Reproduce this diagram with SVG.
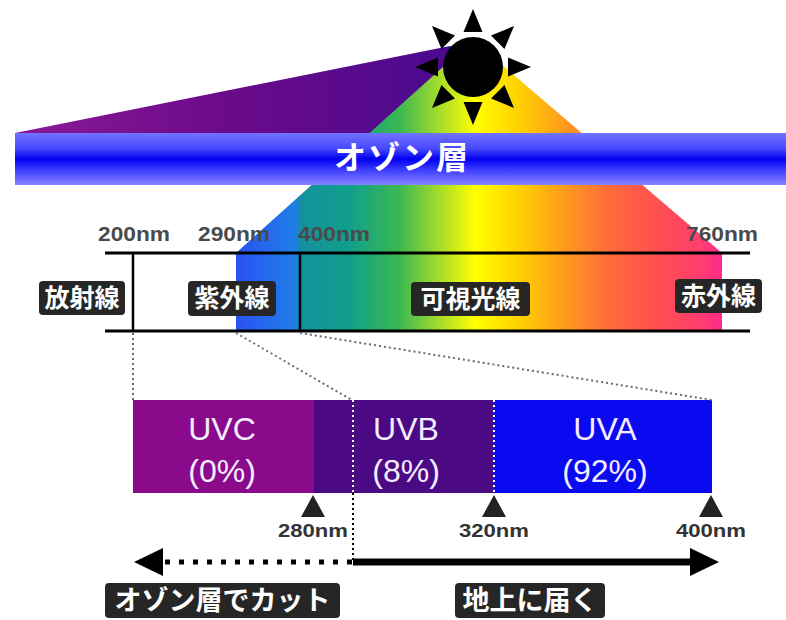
<svg xmlns="http://www.w3.org/2000/svg" width="786" height="620" viewBox="0 0 786 620">
  <defs>
    <linearGradient id="spectrum" gradientUnits="userSpaceOnUse" x1="236" y1="0" x2="722" y2="0">
      <stop offset="0" stop-color="#2a52f2"/>
      <stop offset="0.123" stop-color="#1f7fe6"/>
      <stop offset="0.134" stop-color="#14909e"/>
      <stop offset="0.235" stop-color="#10a08a"/>
      <stop offset="0.337" stop-color="#3cb850"/>
      <stop offset="0.42" stop-color="#a8dc2a"/>
      <stop offset="0.492" stop-color="#ffff00"/>
      <stop offset="0.584" stop-color="#ffd000"/>
      <stop offset="0.677" stop-color="#ff9a1e"/>
      <stop offset="0.77" stop-color="#ff6a3a"/>
      <stop offset="0.872" stop-color="#ff4e52"/>
      <stop offset="0.955" stop-color="#ff3e6e"/>
      <stop offset="1" stop-color="#ff2a8c"/>
    </linearGradient>
    <linearGradient id="uvWedge" gradientUnits="userSpaceOnUse" x1="15" y1="0" x2="450" y2="0">
      <stop offset="0" stop-color="#8a1a96"/>
      <stop offset="0.5" stop-color="#6a0a8a"/>
      <stop offset="1" stop-color="#4a0a8e"/>
    </linearGradient>
    <linearGradient id="ozone" x1="0" y1="0" x2="0" y2="1">
      <stop offset="0" stop-color="#7272ff"/>
      <stop offset="0.3" stop-color="#4848ff"/>
      <stop offset="0.5" stop-color="#0000f0"/>
      <stop offset="0.7" stop-color="#3a3aff"/>
      <stop offset="1" stop-color="#8686ff"/>
    </linearGradient>
    <polygon id="ray" points="0,-58 -9.5,-35 9.5,-35"/>
  </defs>
  <style>
    .nm { font-family: "Liberation Sans", Arial, sans-serif; font-weight: bold; font-size: 20px; fill: #4a4a4a; }
    .tick { font-family: "Liberation Sans", Arial, sans-serif; font-weight: bold; font-size: 19px; fill: #333; }
    .tag { fill: #262626; }
    .tagText { font-family: "Noto Sans CJK JP", sans-serif; font-weight: bold; fill: #fff; text-anchor: middle; }
    .band { font-family: "Liberation Sans", Arial, sans-serif; font-size: 32px; fill: #f4ecff; text-anchor: middle; }
    .rule { stroke: #000; stroke-width: 3; }
    .guide { stroke: #6a6a6a; stroke-width: 2; stroke-dasharray: 2 3; fill: none; }
  </style>

  <!-- light from the sun -->
  <g id="uv-wedge">
    <polygon points="15,133 450,46 473,55 372,133" fill="url(#uvWedge)"/>
  </g>
  <g id="spectrum-fan">
    <polygon points="473,40 722,253 722,331 236,331 236,253" fill="url(#spectrum)"/>
  </g>

  <!-- sun -->
  <g id="sun" fill="#000">
    <circle cx="473" cy="67" r="30"/>
    <g transform="translate(473,67)">
      <use href="#ray"/>
      <use href="#ray" transform="rotate(45)"/>
      <use href="#ray" transform="rotate(90)"/>
      <use href="#ray" transform="rotate(135)"/>
      <use href="#ray" transform="rotate(180)"/>
      <use href="#ray" transform="rotate(225)"/>
      <use href="#ray" transform="rotate(270)"/>
      <use href="#ray" transform="rotate(315)"/>
    </g>
  </g>

  <!-- ozone layer -->
  <g id="ozone-layer">
    <rect x="15" y="133" width="771" height="52" fill="url(#ozone)"/>
    <text x="402" y="169" class="tagText" font-size="32" letter-spacing="2">オゾン層</text>
  </g>

  <!-- wavelength scale -->
  <g id="scale">
    <line class="rule" x1="105" y1="253" x2="750" y2="253"/>
    <line class="rule" x1="105" y1="331" x2="750" y2="331"/>
    <line x1="133" y1="253" x2="133" y2="331" stroke="#000" stroke-width="2.5"/>
    <line x1="300" y1="253" x2="300" y2="331" stroke="#000" stroke-width="2.5"/>
    <text class="nm" x="98" y="241" textLength="72" lengthAdjust="spacingAndGlyphs">200nm</text>
    <text class="nm" x="198" y="241" textLength="72" lengthAdjust="spacingAndGlyphs">290nm</text>
    <text class="nm" x="298" y="241" textLength="72" lengthAdjust="spacingAndGlyphs">400nm</text>
    <text class="nm" x="686" y="241" textLength="72" lengthAdjust="spacingAndGlyphs">760nm</text>
  </g>

  <g id="label-radiation">
    <rect class="tag" x="39" y="281" width="86" height="34" rx="4"/>
    <text class="tagText" x="82" y="307" font-size="25">放射線</text>
  </g>
  <g id="label-ultraviolet">
    <rect class="tag" x="188" y="281" width="88" height="35" rx="4"/>
    <text class="tagText" x="232" y="307" font-size="25">紫外線</text>
  </g>
  <g id="label-visible">
    <rect class="tag" x="411" y="282" width="119" height="34" rx="4"/>
    <text class="tagText" x="470.5" y="308" font-size="25">可視光線</text>
  </g>
  <g id="label-infrared">
    <rect class="tag" x="675" y="279" width="87" height="34" rx="4"/>
    <text class="tagText" x="718.5" y="305" font-size="25">赤外線</text>
  </g>

  <!-- ultraviolet bands -->
  <g id="band-uvc">
    <rect x="133" y="400" width="181" height="93" fill="#8a0a8c"/>
    <text class="band" x="222" y="440">UVC</text>
    <text class="band" x="222" y="482">(0%)</text>
  </g>
  <g id="band-uvb">
    <rect x="314" y="400" width="180" height="93" fill="#4b0a84"/>
    <text class="band" x="406" y="440">UVB</text>
    <text class="band" x="406" y="482">(8%)</text>
  </g>
  <g id="band-uva">
    <rect x="494" y="400" width="218" height="93" fill="#0a0af0"/>
    <text class="band" x="605" y="440">UVA</text>
    <text class="band" x="605" y="482">(92%)</text>
  </g>

  <!-- boundary markers -->
  <g id="marker-280">
    <polygon points="313,495 301,517 325,517" fill="#222"/>
    <text class="tick" x="313" y="537" text-anchor="middle" textLength="70" lengthAdjust="spacingAndGlyphs">280nm</text>
  </g>
  <g id="marker-320">
    <polygon points="494,495 482,517 506,517" fill="#222"/>
    <text class="tick" x="494" y="537" text-anchor="middle" textLength="70" lengthAdjust="spacingAndGlyphs">320nm</text>
  </g>
  <g id="marker-400">
    <polygon points="711,495 699,517 723,517" fill="#222"/>
    <text class="tick" x="711" y="537" text-anchor="middle" textLength="70" lengthAdjust="spacingAndGlyphs">400nm</text>
  </g>

  <!-- connectors -->
  <g id="connectors">
    <line class="guide" x1="133" y1="333" x2="133" y2="400"/>
    <line class="guide" x1="236" y1="333" x2="352" y2="400"/>
    <line class="guide" x1="300" y1="333" x2="712" y2="400"/>
    <line x1="353" y1="400" x2="353" y2="493" stroke="#fff" stroke-width="2" stroke-dasharray="2 3"/>
    <line x1="494" y1="400" x2="494" y2="493" stroke="#fff" stroke-width="2" stroke-dasharray="2 3"/>
    <line x1="353" y1="493" x2="353" y2="562" stroke="#000" stroke-width="2" stroke-dasharray="2 3"/>
    <!-- blocked by ozone: dotted, pointing left -->
    <line x1="165" y1="562" x2="353" y2="562" stroke="#000" stroke-width="5" stroke-dasharray="5 9"/>
    <polygon points="134,562 163,548 163,576" fill="#000"/>
    <!-- reaches the ground: solid, pointing right -->
    <line x1="353" y1="562" x2="694" y2="562" stroke="#000" stroke-width="7"/>
    <polygon points="719,562 690,548 690,576" fill="#000"/>
  </g>

  <g id="label-cut">
    <rect class="tag" x="105" y="583" width="235" height="35" rx="4"/>
    <text class="tagText" x="222.5" y="610" font-size="27">オゾン層でカット</text>
  </g>
  <g id="label-ground">
    <rect class="tag" x="455" y="583" width="150" height="35" rx="4"/>
    <text class="tagText" x="530" y="610" font-size="27">地上に届く</text>
  </g>
</svg>
